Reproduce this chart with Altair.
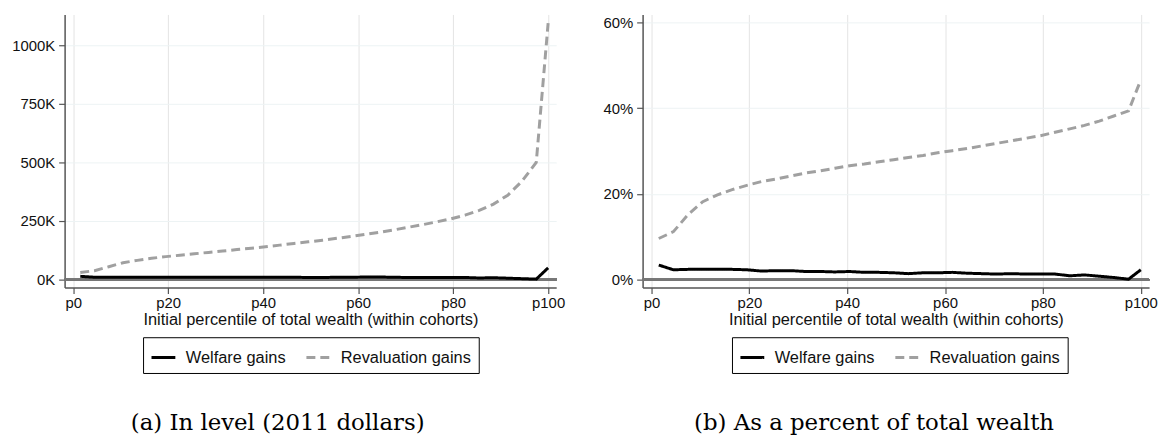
import altair as alt
import pandas as pd

# percentile bins (x positions)
pct = [1.5, 4.5, 7.5, 10.5, 13.5, 16.5, 19.5, 22.5, 25.5, 28.5, 31.5, 34.5,
       37.5, 40.5, 43.5, 46.5, 49.5, 52.5, 55.5, 58.5, 61.5, 64.5, 67.5, 70.5,
       73.5, 76.5, 79.5, 82.5, 85.5, 88.5, 91.5, 94.5, 97.5, 100]

# panel (a): level, 2011 dollars
welfare_level = [14000, 10000, 10000, 10000, 10000, 10000, 10000, 10000, 10000, 10000,
                 10000, 10000, 10000, 10000, 10000, 10000, 9000, 9000, 10000, 10000,
                 11000, 11000, 10000, 9000, 9000, 9000, 9000, 9000, 7000, 8000,
                 6000, 4000, 2000, 50000]
reval_level = [30000, 38000, 55000, 72000, 82000, 91000, 98000, 104000, 110000, 116000,
               122000, 128000, 134000, 140000, 147000, 154000, 161000, 168000, 176000, 184000,
               193000, 202000, 212000, 223000, 234000, 246000, 259000, 275000, 295000, 322000,
               360000, 420000, 500000, 1094000]

# panel (b): percent of total wealth
welfare_pct = [3.4, 2.3, 2.4, 2.4, 2.4, 2.4, 2.3, 2.0, 2.1, 2.1, 1.9, 1.9, 1.8, 1.9,
               1.7, 1.7, 1.6, 1.4, 1.6, 1.6, 1.7, 1.5, 1.4, 1.3, 1.4, 1.3, 1.3, 1.3,
               0.9, 1.1, 0.8, 0.5, 0.1, 2.3]
reval_pct = [9.6, 11.2, 15.2, 18.2, 19.8, 21.0, 22.0, 22.9, 23.5, 24.2, 24.9, 25.4,
             26.0, 26.6, 27.0, 27.5, 28.0, 28.5, 29.0, 29.6, 30.1, 30.6, 31.2, 31.8,
             32.4, 33.0, 33.6, 34.4, 35.2, 36.0, 37.0, 38.2, 39.4, 46.6]

series_names = ["Welfare gains", "Revaluation gains"]
x_ticks = [0, 20, 40, 60, 80, 100]
y_ticks_a = [0, 250000, 500000, 750000, 1000000]
y_ticks_b = [0, 20, 40, 60]

FONT = "Liberation Sans"
SERIF = "DejaVu Serif"


def make_df(w, r):
    return pd.DataFrame({
        "pct": pct * 2,
        "value": list(w) + list(r),
        "series": [series_names[0]] * len(pct) + [series_names[1]] * len(pct),
    })


def panel(df, ydomain, yticks, ylabel_expr, width, caption, cap_dx, legend_x):
    x = alt.X("pct:Q",
              scale=alt.Scale(domain=[-1.8, 101.7], nice=False, zero=False),
              axis=alt.Axis(values=x_ticks, labelExpr="'p' + datum.value",
                            title="Initial percentile of total wealth (within cohorts)",
                            grid=True, gridColor="#e4e4e4", gridWidth=1,
                            tickSize=6, labelPadding=2, titlePadding=1))
    y = alt.Y("value:Q",
              scale=alt.Scale(domain=ydomain, nice=False, zero=False),
              axis=alt.Axis(values=yticks, labelExpr=ylabel_expr, title=None,
                            grid=True, gridColor="#edf3f4", gridWidth=1,
                            tickSize=6, labelPadding=4))
    lines = alt.Chart(df).mark_line(strokeWidth=3).encode(
        x=x, y=y,
        color=alt.Color("series:N",
                        scale=alt.Scale(domain=series_names, range=["#000000", "#a0a0a0"]),
                        legend=alt.Legend(title=None, orient="none", direction="horizontal",
                                          legendX=legend_x, legendY=325,
                                          symbolType="stroke", symbolSize=576,
                                          symbolStrokeWidth=3,
                                          labelFont=FONT, labelFontSize=16.5, labelColor="#111",
                                          labelOffset=9, columnPadding=14, padding=7,
                                          strokeColor="#000", fillColor="#fff",
                                          labelLimit=300)),
        strokeDash=alt.StrokeDash("series:N",
                                  scale=alt.Scale(domain=series_names, range=[[1, 0], [9, 5]]),
                                  legend=None),
        order=alt.Order("pct:Q"),
    )
    zero = alt.Chart(df).mark_rule(color="#777777", strokeWidth=1.6).encode(y=alt.datum(0))
    return alt.layer(zero, lines).properties(
        width=width, height=275,
        title=alt.TitleParams(caption, orient="bottom", anchor="middle", font=SERIF,
                              fontSize=23, fontWeight="normal", color="#000",
                              dx=cap_dx, offset=39),
    )


left = panel(make_df(welfare_level, reval_level), [-34000, 1131000], y_ticks_a,
             "(datum.value / 1000) + 'K'", 495, "(a) In level (2011 dollars)", -33, 79)
right = panel(make_df(welfare_pct, reval_pct), [-1.85, 61.9], y_ticks_b,
              "datum.value + '%'", 510, "(b) As a percent of total wealth", -22, 90)

chart = alt.hconcat(left, right, spacing=37).resolve_scale(
    color="independent", strokeDash="independent"
).resolve_legend(color="independent", strokeDash="independent").properties(
    padding={"left": 3, "top": 5, "right": 5, "bottom": 5},
    background="white",
).configure_view(stroke=None).configure_axis(
    labelFont=FONT, labelFontSize=15, labelColor="#111",
    titleFont=FONT, titleFontSize=16.5, titleFontWeight="normal", titleColor="#111",
    domainColor="#555555", domainWidth=1.5, tickColor="#555555", tickWidth=1.2,
)

chart.save("out.html", embed_options={"renderer": "svg", "actions": False})
